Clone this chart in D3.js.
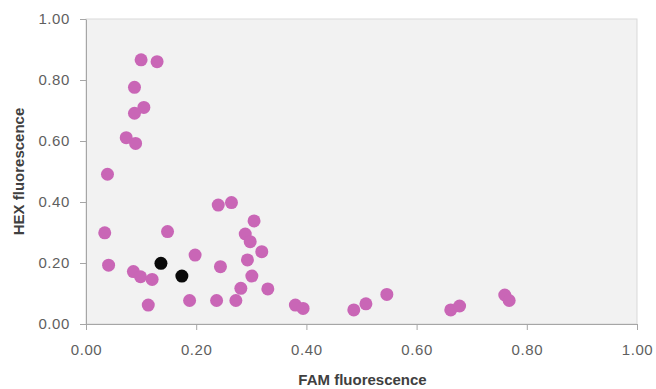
<!DOCTYPE html>
<html>
<head>
<meta charset="utf-8">
<script src="https://cdn.jsdelivr.net/npm/d3@7"></script>
<style>
  html, body { margin: 0; padding: 0; background: #ffffff; }
  svg { display: block; }
</style>
</head>
<body>
<svg id="chart" width="656" height="389"></svg>
<script>
// FAM (x) and HEX (y) fluorescence, pink samples
const pinkFAM = [0.100, 0.129, 0.088, 0.105, 0.088, 0.073, 0.090, 0.039, 0.240, 0.264,
                 0.305, 0.034, 0.148, 0.289, 0.298, 0.319, 0.198, 0.041, 0.293, 0.244,
                 0.086, 0.099, 0.120, 0.301, 0.281, 0.330, 0.113, 0.188, 0.237, 0.272,
                 0.380, 0.394, 0.486, 0.508, 0.546, 0.662, 0.678, 0.760, 0.768];
const pinkHEX = [0.866, 0.860, 0.776, 0.710, 0.691, 0.611, 0.592, 0.491, 0.390, 0.398,
                 0.338, 0.299, 0.303, 0.295, 0.270, 0.237, 0.226, 0.193, 0.210, 0.188,
                 0.172, 0.155, 0.146, 0.157, 0.117, 0.115, 0.062, 0.077, 0.077, 0.077,
                 0.062, 0.051, 0.046, 0.066, 0.097, 0.046, 0.059, 0.095, 0.077];
// black samples
const blackFAM = [0.136, 0.174];
const blackHEX = [0.199, 0.157];

const xTicks = [0, 0.2, 0.4, 0.6, 0.8, 1.0];
const yTicks = [0, 0.2, 0.4, 0.6, 0.8, 1.0];
const xTitle = "FAM fluorescence";
const yTitle = "HEX fluorescence";

const svg = d3.select("#chart");
const margin = {left: 86, right: 19, top: 19, bottom: 65};
const W = 656, H = 389;
const x = d3.scaleLinear().domain([0, 1]).range([margin.left, W - margin.right]);
const y = d3.scaleLinear().domain([0, 1]).range([H - margin.bottom, margin.top]);

// plot area
svg.append("rect")
  .attr("x", x(0)).attr("y", y(1))
  .attr("width", x(1) - x(0)).attr("height", y(0) - y(1))
  .attr("fill", "#f2f2f2").attr("stroke", "#d9d9d9").attr("stroke-width", 1);

const fmt = d3.format(".2f");
const xAxis = svg.append("g")
  .attr("transform", `translate(0,${y(0)})`)
  .call(d3.axisBottom(x).tickValues(xTicks).tickFormat(fmt).tickSizeInner(6).tickSizeOuter(0).tickPadding(14));
const yAxis = svg.append("g")
  .attr("transform", `translate(${x(0)},0)`)
  .call(d3.axisLeft(y).tickValues(yTicks).tickFormat(fmt).tickSizeInner(6).tickSizeOuter(0).tickPadding(10));

[xAxis, yAxis].forEach(g => {
  g.select(".domain").attr("stroke", "#a6a6a6");
  g.selectAll(".tick line").attr("stroke", "#a6a6a6");
  g.selectAll(".tick text")
    .attr("fill", "#5f5f5f")
    .style("font-family", "'Liberation Sans', Arial, sans-serif")
    .style("font-size", "15px")
    .style("letter-spacing", "0.6px");
});

// points
const pink = pinkFAM.map((v, i) => ({fam: v, hex: pinkHEX[i]}));
const black = blackFAM.map((v, i) => ({fam: v, hex: blackHEX[i]}));

svg.append("g").selectAll("circle").data(pink).join("circle")
  .attr("cx", d => x(d.fam)).attr("cy", d => y(d.hex))
  .attr("r", 6.5).attr("fill", "#c966b6");
svg.append("g").selectAll("circle").data(black).join("circle")
  .attr("cx", d => x(d.fam)).attr("cy", d => y(d.hex))
  .attr("r", 6.5).attr("fill", "#0a0a0a");

// titles
svg.append("text")
  .attr("x", (x(0) + x(1)) / 2 + 1).attr("y", 385)
  .attr("text-anchor", "middle")
  .attr("fill", "#404040")
  .style("font-family", "'Liberation Sans', Arial, sans-serif")
  .style("font-size", "15px").style("font-weight", "bold")
  .text(xTitle);
svg.append("text")
  .attr("transform", `translate(24,${(y(0) + y(1)) / 2}) rotate(-90)`)
  .attr("text-anchor", "middle")
  .attr("fill", "#404040")
  .style("font-family", "'Liberation Sans', Arial, sans-serif")
  .style("font-size", "15px").style("font-weight", "bold")
  .text(yTitle);
</script>
</body>
</html>
